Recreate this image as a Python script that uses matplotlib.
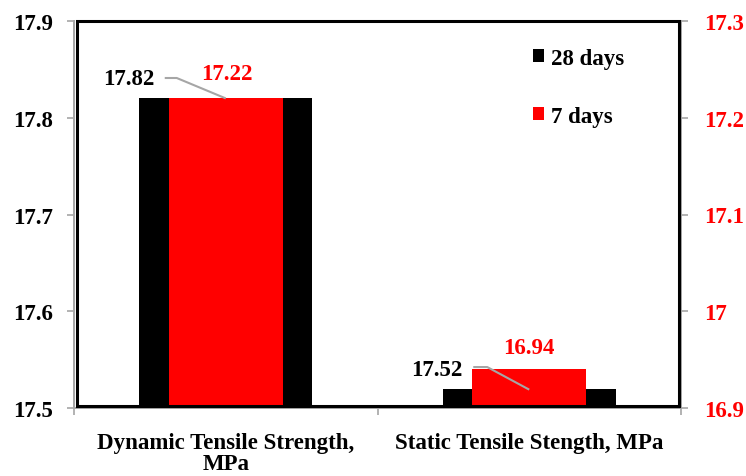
import matplotlib
matplotlib.use("Agg")
import matplotlib.pyplot as plt
from matplotlib.patches import Patch, Rectangle
import numpy as np

plt.rcParams['font.family'] = ['Liberation Serif', 'DejaVu Serif']
plt.rcParams['font.weight'] = 'bold'

categories = ["Dynamic Tensile Strength,\nMPa", "Static Tensile Stength, MPa"]
days28 = [17.82, 17.52]
days7 = [17.22, 16.94]
left_ticks = [17.5, 17.6, 17.7, 17.8, 17.9]
left_labels = ["17.5", "17.6", "17.7", "17.8", "17.9"]
right_ticks = [16.9, 17.0, 17.1, 17.2, 17.3]
right_labels = ["16.9", "17", "17.1", "17.2", "17.3"]
series_names = ["28 days", "7 days"]

GRAY = "#A6A6A6"
RED = "#FF0000"
FS = 16.5

fig = plt.figure(figsize=(7.46, 4.77), dpi=100)
W, H = 746, 477
ax = fig.add_axes([74 / W, 1 - 409 / H, (681 - 74) / W, (409 - 22) / H])
ax2 = ax.twinx()
ax2.set_position(ax.get_position())

x = np.arange(len(categories))
ax.bar(x, days28, width=0.57, color="black", zorder=2)
ax2.bar(x, days7, width=0.376, color=RED, zorder=2)

ax.set_xlim(-0.5, 1.5)
ax2.set_xlim(-0.5, 1.5)
ax.set_ylim(left_ticks[0], left_ticks[-1])
ax2.set_ylim(right_ticks[0], right_ticks[-1])

ax.set_yticks(left_ticks)
ax.set_yticklabels(left_labels, fontsize=FS, fontweight='bold', color='black')
ax2.set_yticks(right_ticks)
ax2.set_yticklabels(right_labels, fontsize=FS, fontweight='bold', color=RED)

# category boundaries carry the tick marks, centers carry the labels
ax.set_xticks([-0.5, 0.5, 1.5])
ax.set_xticklabels([])
ax.set_xticks(x, minor=True)
ax.set_xticklabels(categories, minor=True, fontsize=FS, fontweight='bold',
                   linespacing=1.05)
ax.tick_params(axis='x', which='minor', length=0, pad=17)
ax.tick_params(axis='x', which='major', length=5, width=1.2, color=GRAY, direction='out')
ax.tick_params(axis='y', length=5, width=1.2, color=GRAY, direction='out', pad=10)
ax2.tick_params(axis='y', length=5, width=1.2, color=GRAY, direction='out', pad=12)

for a in (ax, ax2):
    a.spines['top'].set_visible(False)
    for s in ('left', 'right', 'bottom'):
        a.spines[s].set_color(GRAY)
        a.spines[s].set_linewidth(1.3)

# black plot-area border just inside the axis lines
ix, iy = 2.5 / (681 - 74), 2.5 / (409 - 22)
ax2.add_patch(Rectangle((ix, iy), 1 - 2 * ix, 1 - iy, transform=ax2.transAxes,
                        fill=False, edgecolor='black', linewidth=2.2,
                        zorder=5, clip_on=False))


def shifted(a, xv, yv, dx, dy):
    d = a.transData.transform((xv, yv)) + np.array([dx, dy])
    return a.transData.inverted().transform(d)


# value labels with leader lines for the 28-day series
lab28 = [(-97, 20.4), (-92, 19)]
lead28 = [[(-61, 20.4), (-49, 20.4), (0, 0)],
          [(-56, 21.6), (-42, 21.6), (0, -1)]]
for i, v in enumerate(days28):
    tx, ty = shifted(ax, x[i], v, *lab28[i])
    ax.text(tx, ty, f"{v:.2f}", ha='center', va='center', fontsize=FS,
            fontweight='bold', color='black', zorder=6)
    pts = np.array([shifted(ax, x[i], v, dx, dy) for dx, dy in lead28[i]])
    line_ax2 = ax2.transData.inverted().transform(ax.transData.transform(pts))
    ax2.plot(line_ax2[:, 0], line_ax2[:, 1], color=GRAY, lw=1.5, zorder=4,
             solid_capstyle='butt')

ax2.set_ylim(right_ticks[0], right_ticks[-1])
ax2.set_xlim(-0.5, 1.5)

# value labels for the 7-day series
lab7 = [(1, 24.4), (0, 22)]
for i, v in enumerate(days7):
    tx, ty = shifted(ax2, x[i], v, *lab7[i])
    ax2.text(tx, ty, f"{v:.2f}", ha='center', va='center', fontsize=FS,
             fontweight='bold', color=RED, zorder=6)

handles = [Patch(facecolor='black', edgecolor='none'),
           Patch(facecolor=RED, edgecolor='none')]
ax2.legend(handles, series_names, loc='upper left',
           bbox_to_anchor=(533 / W, 1 - 49 / H), bbox_transform=fig.transFigure,
           frameon=False, prop={'size': FS, 'weight': 'bold'},
           handlelength=0.48, handleheight=0.48, handletextpad=0.3,
           labelspacing=1.6, borderaxespad=0, borderpad=0)

fig.savefig("out.png", dpi=100)
